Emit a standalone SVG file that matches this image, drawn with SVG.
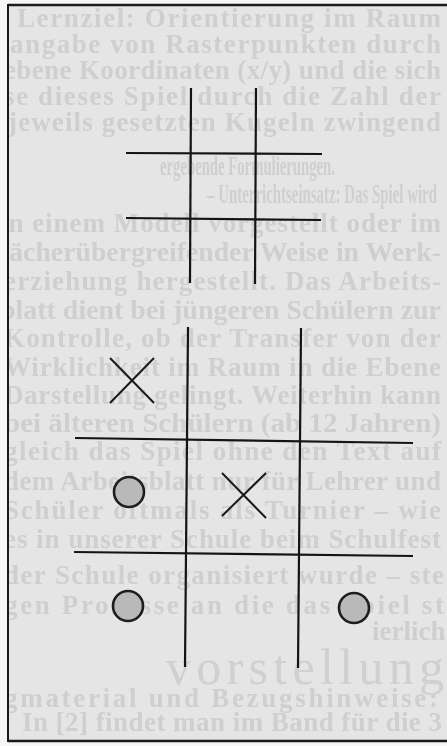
<svg xmlns="http://www.w3.org/2000/svg" width="447" height="746" viewBox="0 0 447 746">
  <defs>
    <clipPath id="frameClip"><rect x="9" y="7" width="438" height="732"/></clipPath>
    <filter id="scan" x="-2%" y="-2%" width="104%" height="104%"><feGaussianBlur stdDeviation="0.7"/></filter>
    <style>
      .pg { font-family: "Liberation Serif", "DejaVu Serif", serif; font-size: 27px; font-weight: bold; fill: #cfcfcf; }
      .big { font-family: "Liberation Serif", "DejaVu Serif", serif; font-size: 50px; fill: #d0d0d0; }
      .grid line { stroke: #141414; stroke-width: 2.2; stroke-linecap: butt; }
      .x line { stroke: #1a1a1a; stroke-width: 2; }
      .o { fill: #b9b9b9; stroke: #1e1e1e; stroke-width: 2.6; }
      .frame { fill: none; stroke: #1a1a1a; }
    </style>
  </defs>
  <rect x="0" y="0" width="447" height="746" fill="#f6f6f6"/>
  <rect x="8" y="5" width="439" height="736" fill="#e5e5e5"/>

  <g id="page-text" clip-path="url(#frameClip)">
    <g filter="url(#scan)">
      <text class="pg" x="17" y="27" textLength="424" lengthAdjust="spacing">Lernziel: Orientierung im Raum</text>
      <text class="pg" x="10" y="53" textLength="431" lengthAdjust="spacing">angabe von Rasterpunkten durch</text>
      <text class="pg" x="4" y="79" textLength="437" lengthAdjust="spacing">ebene Koordinaten (x/y) und die sich</text>
      <text class="pg" x="4" y="105" textLength="437" lengthAdjust="spacing">se dieses Spiel durch die Zahl der</text>
      <text class="pg" x="8" y="131" textLength="433" lengthAdjust="spacing">jeweils gesetzten Kugeln zwingend</text>
      <text class="pg" x="160" y="175" textLength="175" lengthAdjust="spacingAndGlyphs">ergebende Formulierungen.</text>
      <text class="pg" x="207" y="203" textLength="230" lengthAdjust="spacingAndGlyphs">– Unterrichtseinsatz: Das Spiel wird</text>
      <text class="pg" x="0" y="232" textLength="441" lengthAdjust="spacing">in einem Modell vorgestellt oder im</text>
      <text class="pg" x="0" y="261" textLength="441" lengthAdjust="spacingAndGlyphs">fächerübergreifender Weise in Werk-</text>
      <text class="pg" x="4" y="290" textLength="437" lengthAdjust="spacing">erziehung hergestellt. Das Arbeits-</text>
      <text class="pg" x="0" y="319" textLength="441" lengthAdjust="spacingAndGlyphs">blatt dient bei jüngeren Schülern zur</text>
      <text class="pg" x="4" y="347" textLength="437" lengthAdjust="spacing">Kontrolle, ob der Transfer von der</text>
      <text class="pg" x="4" y="376" textLength="437" lengthAdjust="spacing">Wirklichkeit im Raum in die Ebene</text>
      <text class="pg" x="4" y="404" textLength="437" lengthAdjust="spacing">Darstellung gelingt. Weiterhin kann</text>
      <text class="pg" x="4" y="432" textLength="437" lengthAdjust="spacingAndGlyphs">bei älteren Schülern (ab 12 Jahren)</text>
      <text class="pg" x="4" y="460" textLength="437" lengthAdjust="spacing">gleich das Spiel ohne den Text auf</text>
      <text class="pg" x="4" y="490" textLength="437" lengthAdjust="spacing">dem Arbeitsblatt nur für Lehrer und</text>
      <text class="pg" x="4" y="519" textLength="437" lengthAdjust="spacing">Schüler oftmals als Turnier – wie</text>
      <text class="pg" x="4" y="548" textLength="437" lengthAdjust="spacing">es in unserer Schule beim Schulfest</text>
      <text class="pg" x="4" y="584" textLength="440" lengthAdjust="spacing">der Schule organisiert wurde – ste</text>
      <text class="pg" x="4" y="614" textLength="440" lengthAdjust="spacing">gen Prozesse an die das Spiel st</text>
      <text class="pg" x="372" y="640">ierlich</text>
      <text class="big" x="166" y="684" textLength="278" lengthAdjust="spacing">vorstellung</text>
      <text class="pg" x="4" y="707" textLength="434" lengthAdjust="spacing">gmaterial und Bezugshinweise:</text>
      <text class="pg" x="22" y="731" textLength="420" lengthAdjust="spacing">In [2] findet man im Band für die 3</text>
    </g>
  </g>

  <g id="frame">
    <line class="frame" x1="8" y1="5" x2="447" y2="5" stroke-width="2.6"/>
    <line class="frame" x1="8" y1="4" x2="8" y2="742" stroke-width="2"/>
    <line class="frame" x1="8" y1="741" x2="447" y2="741" stroke-width="2.4"/>
  </g>

  <g id="connectors">
    <g id="small-grid" class="grid">
      <line x1="191" y1="88" x2="190" y2="283"/>
      <line x1="256" y1="88" x2="255" y2="284"/>
      <line x1="126" y1="153" x2="322" y2="154"/>
      <line x1="126" y1="218" x2="321" y2="220"/>
    </g>
    <g id="large-grid" class="grid">
      <line x1="188" y1="327" x2="185" y2="667"/>
      <line x1="301" y1="328" x2="298" y2="668"/>
      <line x1="75" y1="438" x2="413" y2="443"/>
      <line x1="74" y1="552" x2="413" y2="556"/>
    </g>
  </g>

  <g id="x-top-left" class="x">
    <line x1="110" y1="358" x2="154" y2="403"/>
    <line x1="154" y1="358" x2="110" y2="403"/>
  </g>
  <g id="x-center" class="x">
    <line x1="222" y1="473" x2="266" y2="518"/>
    <line x1="266" y1="473" x2="222" y2="516"/>
  </g>
  <g id="o-middle-left"><circle class="o" cx="129" cy="492" r="15"/></g>
  <g id="o-bottom-left"><circle class="o" cx="128" cy="606" r="15"/></g>
  <g id="o-bottom-right"><circle class="o" cx="354" cy="608" r="15"/></g>
</svg>
